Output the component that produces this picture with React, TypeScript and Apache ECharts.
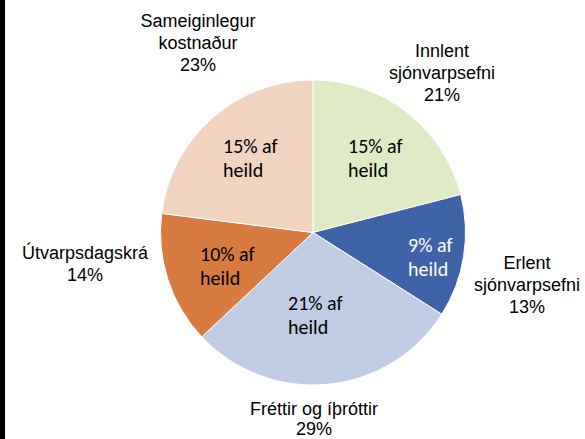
import React, { useEffect, useRef } from "react";
import * as echarts from "echarts";

const categories = [
  "Innlent\nsjónvarpsefni",
  "Erlent\nsjónvarpsefni",
  "Fréttir og íþróttir",
  "Útvarpsdagskrá",
  "Sameiginlegur\nkostnaður",
];
const shares = [21, 13, 29, 14, 23];
const shareOfTotal = [15, 9, 21, 10, 15];

const sliceColors = ["#DEEBC5", "#3E64A7", "#C0CCE4", "#D77B40", "#F1D3C0"];
const innerTextColors = ["#000000", "#FFFFFF", "#000000", "#000000", "#000000"];
// label layout (pixel positions of label anchors)
const innerLabelPos = [
  [348, 158],
  [408, 257],
  [288, 315],
  [200, 266],
  [223, 158],
];
const outerLabelPos = [
  [442, 73],
  [527, 285],
  [314, 419],
  [85, 264],
  [198, 43],
];
const outerLineHeights = [22, 22, 20, 22, 22];

export default function App() {
  const ref = useRef<HTMLDivElement>(null);
  useEffect(() => {
    if (!ref.current) return;
    const chart = echarts.init(ref.current, null, { renderer: "svg" });
    const data = categories.map((c, i) => ({
      name: c,
      value: shares[i],
      itemStyle: { color: sliceColors[i] },
      label: { color: innerTextColors[i] },
    }));
    const dataOuter = categories.map((c, i) => ({
      name: c,
      value: shares[i],
      label: { lineHeight: outerLineHeights[i] },
    }));
    chart.setOption({
      animation: false,
      backgroundColor: "#ffffff",
      graphic: [
        {
          type: "rect",
          shape: { x: 0, y: 0, width: 5, height: 439 },
          style: { fill: "#000000" },
          silent: true,
        },
      ],
      series: [
        {
          type: "pie",
          center: [313, 232.5],
          radius: [0, 152.5],
          startAngle: 90,
          clockwise: true,
          avoidLabelOverlap: false,
          silent: true,
          itemStyle: { borderColor: "#ffffff", borderWidth: 1 },
          label: {
            show: true,
            position: "inside",
            fontFamily: "Carlito, Calibri, Lato, sans-serif",
            fontSize: 20,
            lineHeight: 24,
            align: "left",
            formatter: (p: any) => `${shareOfTotal[p.dataIndex]}% af\nheild`,
          },
          labelLine: { show: false },
          labelLayout: (p: any) => ({
            x: innerLabelPos[p.dataIndex][0],
            y: innerLabelPos[p.dataIndex][1],
            align: "left",
            verticalAlign: "middle",
          }),
          data,
        },
        {
          type: "pie",
          center: [313, 232.5],
          radius: [0, 152.5],
          startAngle: 90,
          clockwise: true,
          avoidLabelOverlap: false,
          silent: true,
          z: 3,
          itemStyle: { color: "rgba(0,0,0,0)", borderWidth: 0 },
          label: {
            show: true,
            position: "outside",
            color: "#000000",
            fontFamily: "'Liberation Sans', Arial, sans-serif",
            fontSize: 18,
            lineHeight: 22,
            align: "center",
            formatter: (p: any) => `${p.name}\n${p.value}%`,
          },
          labelLine: { show: false },
          labelLayout: (p: any) => ({
            x: outerLabelPos[p.dataIndex][0],
            y: outerLabelPos[p.dataIndex][1],
            align: "center",
            verticalAlign: "middle",
          }),
          data: dataOuter,
        },
      ],
    });
    return () => chart.dispose();
  }, []);
  return (
    <div
      ref={ref}
      style={{ position: "fixed", left: 0, top: 0, width: 585, height: 439 }}
    />
  );
}
